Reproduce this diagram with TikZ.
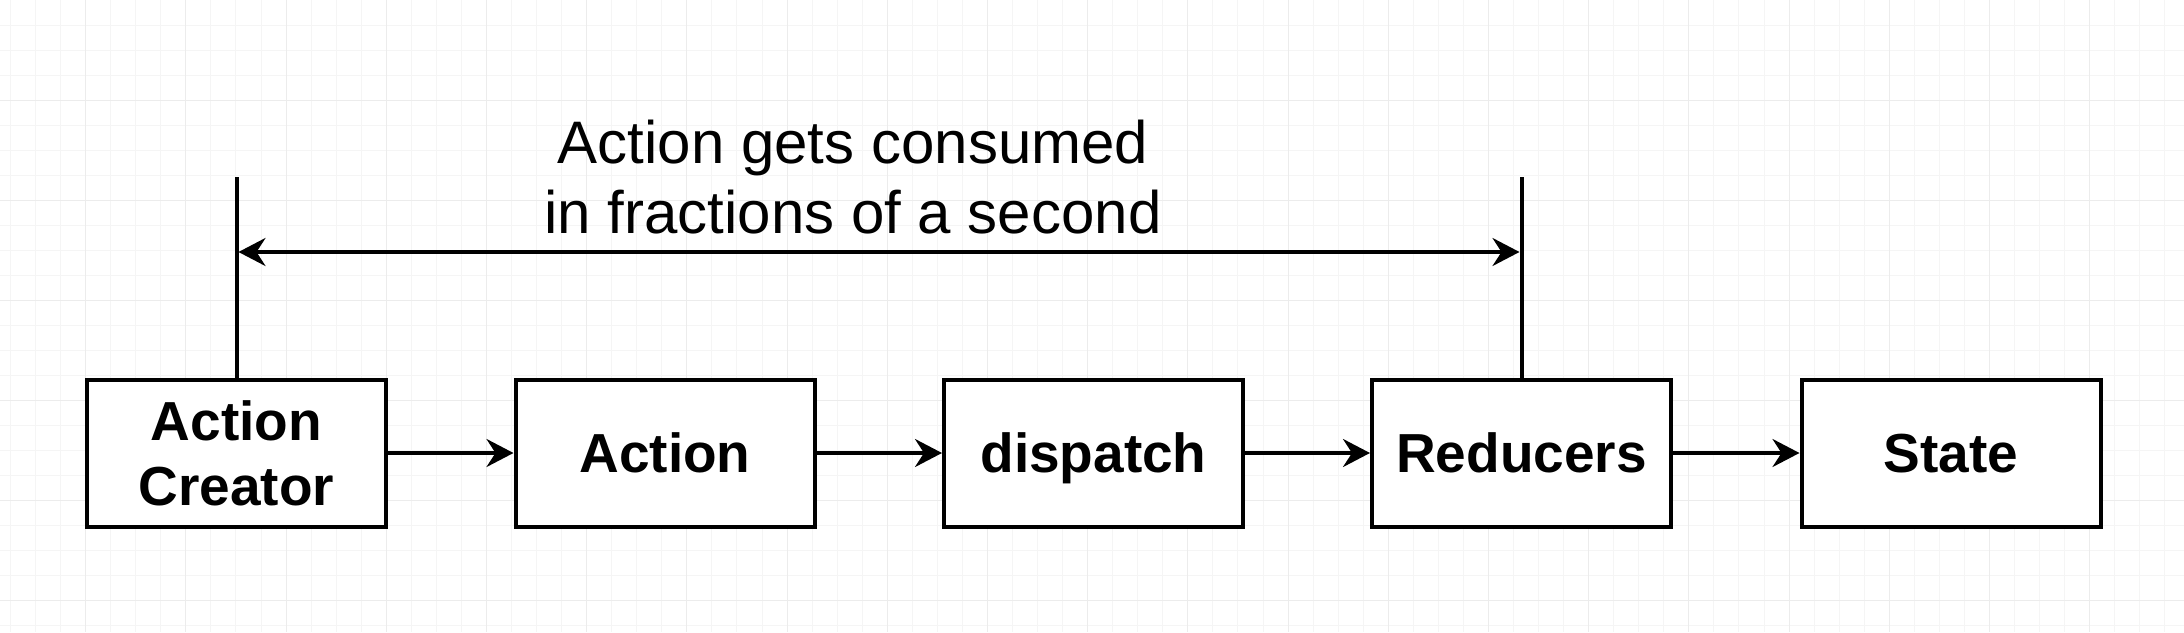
\documentclass[tikz,border=0pt]{standalone}
\usepackage{fontspec}
\setmainfont{Liberation Sans}
\usetikzlibrary{arrows.meta}
\definecolor{gridminor}{HTML}{F5F5F5}
\definecolor{gridmajor}{HTML}{ECECEC}
\tikzset{
  box/.style={draw=black, line width=4pt, fill=white, minimum width=299pt,
    minimum height=147pt, inner sep=0pt, align=center,
    font=\fontsize{55}{65}\selectfont\bfseries},
  onebox/.style={box, text height=39.5pt, text depth=0pt},
  conn/.style={line width=3.5pt, -{Stealth[length=27pt,width=28pt,inset=9pt]}},
  dimline/.style={line width=3.5pt, {Stealth[length=27pt,width=28pt,inset=9pt]}-{Stealth[length=27pt,width=28pt,inset=9pt]}},
  guide/.style={line width=4pt},
  label/.style={align=center, inner sep=0pt, font=\fontsize{60}{70}\selectfont},
}
\begin{document}
\begin{tikzpicture}[x=1pt,y=-1pt]
\useasboundingbox (0,0) rectangle (2184,632);
\fill[white] (0,0) rectangle (2184,632);
% grid
\foreach \i in {0,...,86} \draw[gridminor, line width=1pt] ({10.5+25.05*\i},0) -- ({10.5+25.05*\i},632);
\foreach \j in {1,...,25} \draw[gridminor, line width=1pt] (0,{25*\j}) -- (2184,{25*\j});
\foreach \i in {0,...,20} \draw[gridmajor, line width=1pt] ({85.65+100.2*\i},0) -- ({85.65+100.2*\i},632);
\foreach \j in {1,...,6} \draw[gridmajor, line width=1pt] (0,{100*\j}) -- (2184,{100*\j});
% boxes
\node[box] (ac) at (236.5,453) {Action\\Creator};
\node[onebox] (act) at (665,453) {Action};
\node[onebox] (disp) at (1093.5,453) {dispatch};
\node[onebox] (red) at (1521.5,453) {Reducers};
\node[onebox] (st) at (1951,453) {State};
% connectors
\draw[conn] (ac) -- (act);
\draw[conn] (act) -- (disp);
\draw[conn] (disp) -- (red);
\draw[conn] (red) -- (st);
% guide lines and dimension arrow
\coordinate (t1) at (236.5,177);
\coordinate (t2) at (1521.5,177);
\coordinate (d1) at (238.5,252);
\coordinate (d2) at (1519.5,252);
\draw[guide] (ac.north) -- (t1);
\draw[guide] (red.north) -- (t2);
\draw[dimline] (d1) -- (d2);
\node[label] (lbl) at (853,177) {Action gets consumed\\in fractions of a second};
\end{tikzpicture}
\end{document}
